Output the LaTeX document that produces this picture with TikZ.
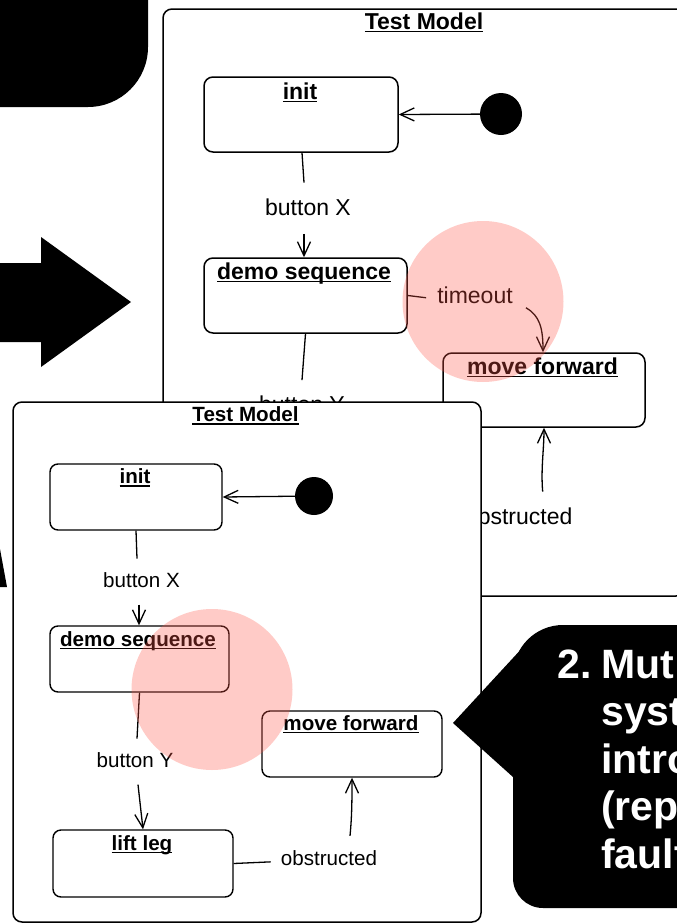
\documentclass[tikz,border=0pt]{standalone}
\usepackage{fontspec}
\setmainfont{Liberation Sans}
\usetikzlibrary{arrows.meta}
\definecolor{hlred}{RGB}{255,85,70}
% underlined word with a firm rule close to the baseline
\newsavebox\ulsave
\newcommand\ulword[1]{\sbox\ulsave{#1}\rlap{\rule[-0.14em]{\wd\ulsave}{0.07em}}\usebox\ulsave}

\begin{document}
\begin{tikzpicture}[x=1pt,y=-1pt,
  frame/.style={draw, line width=1.5pt, rounded corners=9pt, fill=white, inner sep=0},
  stateA/.style={draw, line width=1.5pt, rounded corners=9pt, inner sep=0, minimum height=75pt},
  stateB/.style={draw, line width=1.4pt, rounded corners=8pt, inner sep=0, minimum height=66pt},
  ttlA/.style={font=\bfseries\fontsize{23}{27}\selectfont, anchor=base, inner sep=0},
  ttlB/.style={font=\bfseries\fontsize{20.6}{24}\selectfont, anchor=base, inner sep=0},
  lblA/.style={font=\fontsize{23}{27}\selectfont, anchor=base, text height=17.25pt, text depth=5.75pt, inner xsep=11pt, inner ysep=14pt},
  lblB/.style={font=\fontsize{20.6}{24}\selectfont, anchor=base, text height=15.45pt, text depth=5.15pt, inner xsep=10pt, inner ysep=12.5pt},
  pseudo/.style={circle, fill=black, inner sep=0},
  conn/.style={line width=1.3pt},
  arr/.style={conn, -{Straight Barb[length=14pt,width=13pt]}},
  spot/.style={circle, fill=hlred, fill opacity=0.3, inner sep=0, minimum size=161pt},
  calltext/.style={font=\bfseries\fontsize{41}{48}\selectfont, text=white, anchor=base west, inner sep=0}
]
\useasboundingbox (0,0) rectangle (677,924);
\clip (0,0) rectangle (677,924);

% ---------- black shapes on the left ----------
\fill (-20,-20) -- (148,-20) -- (148,47) .. controls (148,80.1) and (121.1,107) .. (88,107) -- (-20,107) -- cycle;
\fill (-5,263) -- (41,263) -- (41,237) -- (131,302) -- (41,367) -- (41,342) -- (-5,342) -- cycle;
\fill (0,549) -- (7,587) -- (-3,587) -- (-3,549) -- cycle;

% ---------- first model ----------
\node[frame, minimum width=522pt, minimum height=587pt] (fr1) at (424,302.5) {};
\node[ttlA] (fr1t) at ([yshift=-21pt]fr1.north) {\ulword{Test Model}};

\node[stateA, minimum width=194pt] (init1) at (301,114.5) {};
\node[ttlA] (init1t) at ([yshift=-23pt,xshift=-1pt]init1.north) {\ulword{init}};
\node[stateA, minimum width=203pt] (demo1) at (305.5,295.5) {};
\node[ttlA] (demo1t) at ([yshift=-22pt,xshift=-1.5pt]demo1.north) {\ulword{demo sequence}};
\node[stateA, minimum width=202pt, minimum height=74pt] (move1) at (544,390) {};
\node[ttlA] (move1t) at ([yshift=-22pt,xshift=-1.5pt]move1.north) {\ulword{move forward}};
\node[pseudo, minimum size=42pt] (start1) at (501,114) {};

\node[lblA] (bx1) at (308,215) {button X};
\node[lblA] (by1) at (302,412.5) {button Y};
\node[lblA] (to1) at (475,303.5) {timeout};
\node[lblA] (ob1) at (518.7,524) {obstructed};

\draw[arr] (start1) -- (init1.east);
\draw[conn] ([xshift=1pt]init1.south) -- ([xshift=-4pt,yshift=1pt]bx1.north);
\draw[arr] ([xshift=-4pt,yshift=1pt]bx1.south) -- ([xshift=-1.5pt]demo1.north);
\draw[conn] (demo1.south) -- ([yshift=1pt]by1.north);
\draw[conn] (demo1.east) -- (to1.west);
\draw[arr] ([xshift=2pt,yshift=-10pt]to1.east) .. controls +(14,8) and +(0,-24) .. ([xshift=-1pt]move1.north);
\draw[arr] ([xshift=24pt,yshift=1pt]ob1.north) .. controls +(-2,-22) and +(0,22) .. (move1.south);

\node[spot] (hl1) at (483,301.5) {};

% ---------- second model ----------
\node[frame, minimum width=468pt, minimum height=520pt] (fr2) at (247,662) {};
\node[ttlB] (fr2t) at ([yshift=-20.5pt,xshift=-1.5pt]fr2.north) {\ulword{Test Model}};

\node[stateB, minimum width=172pt] (init2) at (136,497) {};
\node[ttlB] (init2t) at ([yshift=-20.5pt,xshift=-1pt]init2.north) {\ulword{init}};
\node[stateB, minimum width=179pt] (demo2) at (139.5,659) {};
\node[ttlB] (demo2t) at ([yshift=-21pt,xshift=-1.5pt]demo2.north) {\ulword{demo sequence}};
\node[stateB, minimum width=180pt] (move2) at (352,744) {};
\node[ttlB] (move2t) at ([yshift=-20pt,xshift=-1pt]move2.north) {\ulword{move forward}};
\node[stateB, minimum width=180pt, minimum height=67pt] (lift2) at (143,863.5) {};
\node[ttlB] (lift2t) at ([yshift=-21pt,xshift=-1pt]lift2.north) {\ulword{lift leg}};
\node[pseudo, minimum size=38pt] (start2) at (314,496) {};

\node[lblB] (bx2) at (141.5,587.7) {button X};
\node[lblB] (by2) at (135,767.7) {button Y};
\node[lblB] (ob2) at (329,865) {obstructed};

\draw[arr] (start2) -- (init2.east);
\draw[conn] (init2.south) -- ([xshift=-4.5pt,yshift=1pt]bx2.north);
\draw[arr] ([xshift=-2.5pt,yshift=1pt]bx2.south) -- ([xshift=-0.5pt]demo2.north);
\draw[conn] (demo2.south) -- ([xshift=2pt,yshift=1pt]by2.north);
\draw[arr] ([xshift=3pt,yshift=1pt]by2.south) -- (lift2.north);
\draw[conn] (lift2.east) -- ([yshift=-2pt]ob2.west);
\draw[arr] ([xshift=21pt,yshift=1pt]ob2.north) .. controls +(2,-20) and +(0,20) .. (move2.south);

\node[spot] (hl2) at (212,689.5) {};

% ---------- speech bubble ----------
\fill (453,723) -- (525,645) -- (513,777) -- cycle;
\fill (720,625) -- (563,625) .. controls (535.4,625) and (513,647.4) .. (513,675)
  -- (513,878) .. controls (513,894.6) and (526.4,908) .. (543,908) -- (720,908) -- cycle;
\node[calltext] (c0) at (557,678) {2.};
\node[calltext] (c1) at (601,678) {Mut};
\node[calltext] (c2) at (601,725.5) {syst};
\node[calltext] (c3) at (601,773) {intro};
\node[calltext] (c4) at (601,820.5) {(rep};
\node[calltext] (c5) at (601,868) {fault};
\end{tikzpicture}
\end{document}
